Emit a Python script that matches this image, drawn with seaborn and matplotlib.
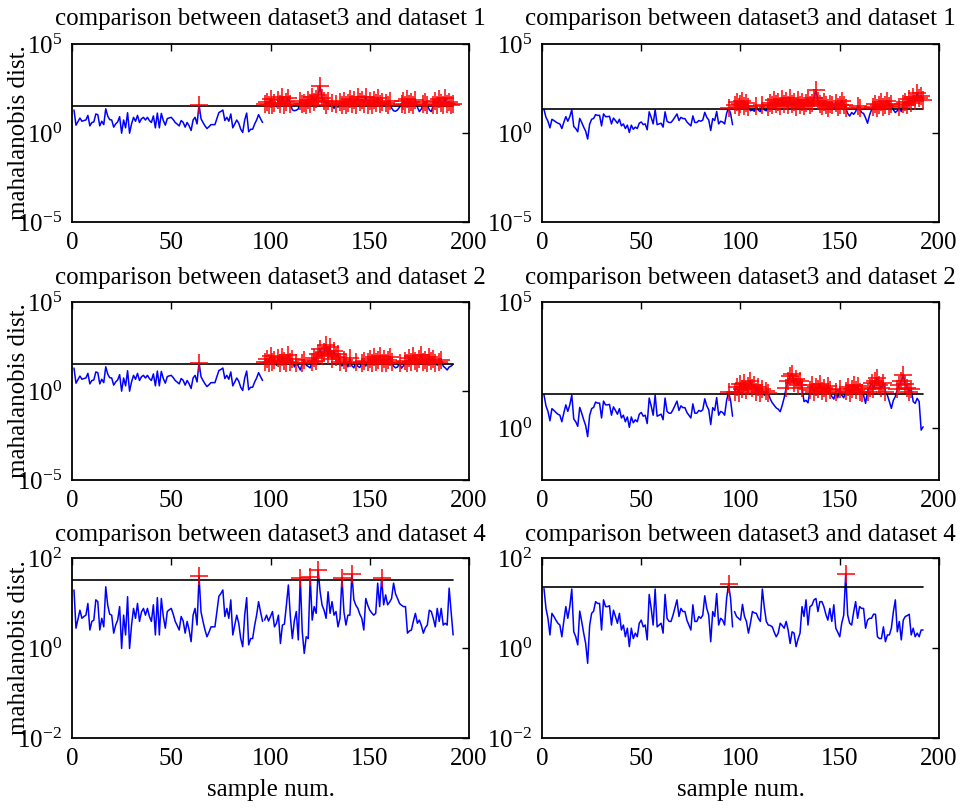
import matplotlib
matplotlib.use("Agg")
import numpy as np
import pandas as pd
import matplotlib.pyplot as plt
import seaborn as sns
from matplotlib.ticker import FixedLocator, LogFormatterMathtext, NullLocator

# ---------------- data (log10 of mahalanobis distance) ----------------
SAMPLES_REF = list(range(1, 97))
SAMPLES_TEST = list(range(97, 193))

LEFT_REF_LOG = [
    1.29, 0.44, 0.64, 0.84, 0.66, 0.70, 0.73, 0.99, 0.40, 0.59, 0.62, 1.07,
    1.03, 0.40, 0.66, 0.47, 1.36, 0.95, 0.75, 0.73, 0.33, 0.51, 0.62, 0.92,
    -0.01, 0.73, 0.29, 1.14, -0.01, 0.51, 0.88, 0.66, 0.99, 0.59, 0.80, 0.88,
    0.73, 0.88, 0.70, 0.59, 0.96, 0.29, 1.12, 0.29, 1.10, 0.70, 0.44, 0.81,
    0.85, 0.88, 0.75, 0.59, 0.50, 0.40, 0.70, 0.60, 0.33, 0.59, 0.40, 0.14,
    0.73, 0.88, 0.51, 1.60, 0.80, 0.59, 0.40, 0.25, 0.35, 0.47, 0.47, 0.47,
    0.81, 1.15, 1.21, 1.29, 0.70, 0.88, 0.66, 1.07, 0.29, 0.51, 0.73, 0.55,
    0.21, 0.03, 0.73, 1.12, 0.07, 0.21, 0.21, 0.50, 0.73, 1.03, 0.80, 0.59]

RIGHT_REF_LOG = [
    1.32, 0.88, 0.66, 0.29, 0.77, 0.70, 0.62, 0.55, 0.51, 0.25, 0.60, 0.92,
    0.66, 0.92, 1.31, 0.36, 0.25, 0.07, 0.82, 0.59, 0.33, 0.10, -0.34, 0.50,
    0.77, 0.82, 1.03, 0.99, 0.99, 0.40, 1.07, 0.92, 0.92, 0.94, 0.51, 0.84,
    0.70, 0.55, 0.77, 0.40, 0.51, 0.25, 0.44, 0.03, 0.44, 0.21, 0.33, 0.25,
    0.55, 0.62, 0.47, 0.51, 0.18, 1.19, 0.88, 0.51, 1.31, 0.47, 0.51, 0.55,
    0.33, 1.19, 0.66, 0.59, 0.59, 0.73, 0.90, 1.07, 0.70, 0.88, 0.81, 0.81,
    0.62, 0.51, 0.40, 0.96, 0.59, 0.59, 0.70, 0.66, 0.73, 1.16, 0.88, 0.73,
    0.14, 0.81, 0.70, 1.21, 0.51, 0.66, 0.62, 0.51, 1.10, 1.42, 1.10, 0.47]

TL_TEST_LOG = [
    1.62, 1.75, 1.55, 1.90, 1.60, 1.70, 1.48, 1.85, 1.62, 2.05, 1.58, 1.72,
    1.95, 1.65, 1.30, 1.25, 1.28, 1.35, 1.80, 1.62, 1.70, 1.55, 1.85, 1.65,
    2.00, 1.72, 1.90, 2.15, 2.62, 1.95, 1.78, 1.60, 1.82, 1.50, 1.70, 1.38,
    1.62, 1.45, 1.75, 1.60, 1.82, 1.55, 1.70, 1.90, 1.62, 1.85, 1.58, 2.00,
    1.72, 1.88, 1.65, 2.05, 1.60, 1.78, 1.55, 1.85, 1.68, 1.95, 1.62, 1.75,
    1.50, 1.70, 1.58, 1.82, 1.40, 1.25, 1.22, 1.30, 1.45, 1.65, 1.78, 1.55,
    1.90, 1.62, 1.72, 1.58, 1.85, 1.45, 1.20, 1.35, 1.62, 1.75, 1.58, 1.30,
    1.20, 1.55, 1.82, 1.60, 1.90, 1.68, 1.55, 1.95, 1.62, 1.72, 1.58, 1.65]

TR_TEST_LOG = [
    1.55, 1.72, 1.48, 1.62, 1.80, 1.52, 1.68, 1.45, 1.25, 1.30, 1.22, 1.50,
    1.28, 1.20, 1.58, 1.30, 1.25, 1.45, 1.70, 1.55, 1.85, 1.62, 1.75, 1.50,
    1.90, 1.65, 1.78, 1.55, 1.95, 1.62, 1.72, 1.48, 1.85, 1.60, 1.75, 1.52,
    1.68, 1.85, 1.55, 1.70, 1.95, 2.42, 1.80, 1.65, 1.50, 1.75, 1.58, 1.40,
    1.62, 1.55, 1.35, 1.70, 1.48, 1.60, 1.82, 1.55, 1.42, 1.10, 0.95, 1.15,
    1.05, 1.20, 1.50, 1.40, 1.15, 1.10, 0.85, 0.55, 1.00, 1.30, 1.45, 1.62,
    1.40, 1.55, 1.72, 1.48, 1.60, 1.80, 1.52, 1.65, 1.30, 1.15, 1.25, 1.45,
    1.20, 1.62, 1.75, 1.55, 1.90, 1.70, 2.05, 1.80, 2.25, 1.95, 2.10, 1.85]

ML_TEST_LOG = [
    1.65, 1.80, 1.58, 1.95, 1.62, 1.75, 1.45, 1.85, 1.60, 1.90, 1.70, 1.55,
    2.00, 1.65, 1.78, 1.35, 1.60, 1.40, 1.18, 1.55, 1.72, 1.45, 1.38, 1.30,
    1.62, 1.85, 1.70, 2.10, 2.35, 1.95, 2.20, 2.60, 2.05, 2.45, 1.80, 2.25,
    1.90, 2.10, 1.65, 1.40, 1.75, 1.60, 1.35, 1.85, 1.42, 1.30, 1.65, 1.38,
    1.32, 1.55, 1.70, 1.40, 1.62, 1.80, 1.58, 1.90, 1.65, 1.75, 1.95, 1.60,
    1.82, 1.55, 1.72, 1.90, 1.62, 1.40, 1.30, 1.35, 1.58, 1.28, 1.42, 1.70,
    1.55, 1.85, 1.62, 1.95, 1.70, 1.58, 1.80, 2.00, 1.65, 1.75, 1.55, 1.90,
    1.68, 1.82, 1.58, 1.45, 1.62, 1.75, 1.40, 1.30, 1.18, 1.35, 1.40, 1.50]

MR_TEST_LOG = [
    1.45, 1.62, 1.40, 1.75, 1.55, 1.80, 1.50, 1.68, 1.85, 1.58, 1.72, 1.45,
    1.62, 1.40, 1.55, 1.30, 1.48, 1.38, 1.15, 1.00, 0.90, 0.80, 0.75, 0.65,
    0.90, 1.20, 1.60, 1.85, 2.05, 2.15, 1.80, 1.95, 1.70, 1.85, 1.60, 1.05,
    1.10, 1.00, 1.50, 1.70, 1.45, 1.62, 1.55, 1.75, 1.48, 1.60, 1.40, 1.68,
    1.50, 1.25, 1.15, 1.45, 1.20, 1.55, 1.30, 1.20, 1.48, 1.62, 1.40, 1.55,
    1.72, 1.50, 1.65, 1.45, 1.40, 1.30, 0.98, 1.45, 1.60, 1.78, 1.55, 1.85,
    2.00, 1.70, 1.58, 1.80, 1.45, 1.30, 1.05, 0.78, 1.10, 1.25, 1.55, 1.70,
    1.85, 2.10, 1.75, 1.60, 1.45, 1.55, 1.05, 0.98, 1.18, 1.05, -0.08, 0.05]

BL_TEST_LOG = [
    0.62, 0.73, 0.60, 0.70, 0.81, 0.47, 0.55, 0.73, 0.10, 0.51, 0.53, 0.95,
    1.40, 0.70, 0.21, 0.60, 0.81, 0.18, 1.56, 0.36, -0.12, 0.25, 0.21, 1.58,
    0.62, 0.92, 0.77, 1.73, 1.25, 0.95, 0.84, 0.66, 1.25, 0.77, 1.03, 0.73,
    0.81, 0.47, 0.66, 1.56, 0.80, 0.51, 0.73, 0.73, 1.65, 1.07, 0.95, 0.88,
    0.75, 0.66, 0.40, 1.10, 0.95, 0.84, 0.78, 0.73, 0.77, 1.44, 0.92, 1.56,
    0.96, 1.18, 0.96, 1.02, 1.10, 1.44, 1.20, 1.10, 0.99, 0.95, 0.92, 0.92,
    0.33, 0.38, 0.40, 0.60, 0.77, 0.55, 0.62, 0.50, 0.33, 0.45, 0.51, 0.84,
    0.81, 0.66, 0.47, 0.88, 0.59, 0.88, 0.51, 0.55, 0.51, 1.33, 0.80, 0.29]

BR_TEST_LOG = [
    0.81, 0.70, 0.66, 0.62, 0.97, 0.70, 0.59, 0.33, 0.55, 0.81, 0.78, 0.77,
    0.66, 0.59, 1.31, 0.90, 0.59, 0.51, 0.50, 0.47, 0.35, 0.25, 0.33, 0.55,
    0.50, 0.44, 0.59, 0.40, 0.10, 0.36, 0.33, 0.03, 0.20, 0.33, 0.92, 0.70,
    1.07, 0.51, 0.92, 0.95, 1.07, 1.10, 0.81, 1.03, 1.03, 0.92, 0.75, 0.62,
    0.88, 0.59, 0.96, 0.44, 0.35, 0.25, 0.55, 0.73, 1.64, 0.73, 0.55, 0.51,
    0.80, 1.03, 0.66, 0.92, 0.88, 0.88, 0.44, 0.62, 0.66, 0.66, 0.75, 0.75,
    0.25, 0.21, 0.21, 0.47, 0.14, 0.29, 0.29, 0.44, 0.80, 1.07, 0.36, 0.59,
    0.18, 0.62, 0.70, 0.72, 0.75, 0.29, 0.44, 0.25, 0.33, 0.25, 0.40, 0.40]

THRESH_LEFT_LOG = 1.52
THRESH_RIGHT_LOG = 1.35
THRESH_X = [0, 192]

TITLES = ["comparison between dataset3 and dataset 1",
          "comparison between dataset3 and dataset 1",
          "comparison between dataset3 and dataset 2",
          "comparison between dataset3 and dataset 2",
          "comparison between dataset3 and dataset 4",
          "comparison between dataset3 and dataset 4"]
YLABEL = "mahalanobis dist."
XLABEL = "sample num."
XTICKS = [0, 50, 100, 150, 200]
YTICK_EXP = [[-5, 0, 5], [-5, 0, 5], [-5, 0, 5], [0, 5], [-2, 0, 2], [-2, 0, 2]]
YLIM_EXP = [(-5, 5), (-5, 5), (-5, 5), (-2.06, 5), (-2, 2), (-2, 2)]

# ---------------- style ----------------
sns.set_theme(style="white")
plt.rcParams["font.family"] = ["Liberation Serif", "DejaVu Serif"]
plt.rcParams["mathtext.fontset"] = "custom"
plt.rcParams["mathtext.rm"] = "Liberation Serif"
plt.rcParams["mathtext.it"] = "Liberation Serif:italic"
plt.rcParams["axes.unicode_minus"] = True

W, H = 962, 808
fig = plt.figure(figsize=(W / 100, H / 100), dpi=100)
fig.patch.set_facecolor("white")

col_left = [72, 542]
col_w = 397
rows = [(44, 222), (302, 480), (558, 738)]
title_pad = [14, 13, 12]

panels = [
    (0, 0, LEFT_REF_LOG, TL_TEST_LOG, THRESH_LEFT_LOG),
    (0, 1, RIGHT_REF_LOG, TR_TEST_LOG, THRESH_RIGHT_LOG),
    (1, 0, LEFT_REF_LOG, ML_TEST_LOG, THRESH_LEFT_LOG),
    (1, 1, RIGHT_REF_LOG, MR_TEST_LOG, THRESH_RIGHT_LOG),
    (2, 0, LEFT_REF_LOG, BL_TEST_LOG, THRESH_LEFT_LOG),
    (2, 1, RIGHT_REF_LOG, BR_TEST_LOG, THRESH_RIGHT_LOG),
]

FS = 18
for i, (r, c, ref_log, test_log, thr_log) in enumerate(panels):
    top, bot = rows[r]
    ax = fig.add_axes([col_left[c] / W, 1 - bot / H, col_w / W, (bot - top) / H])
    ax.set_yscale("log")
    thr = 10 ** thr_log

    for xs, ys_log in ((SAMPLES_REF, ref_log), (SAMPLES_TEST, test_log)):
        seg = pd.DataFrame({"x": xs, "y": 10 ** np.array(ys_log)})
        sns.lineplot(data=seg, x="x", y="y", ax=ax, color="#0000FF", linewidth=1.1,
                     estimator=None, sort=False, legend=False, zorder=2)

    thr_df = pd.DataFrame({"x": THRESH_X, "y": [thr, thr]})
    sns.lineplot(data=thr_df, x="x", y="y", ax=ax, color="black", linewidth=1.2,
                 estimator=None, sort=False, legend=False, zorder=2.5)

    allx = np.array(SAMPLES_REF + SAMPLES_TEST)
    ally = 10 ** np.array(list(ref_log) + list(test_log))
    mask = ally > thr
    mk = pd.DataFrame({"x": allx[mask], "y": ally[mask]})
    sns.scatterplot(data=mk, x="x", y="y", ax=ax, marker="+", s=150, color="#FF0000",
                    linewidth=1.1, legend=False, zorder=3)

    ax.set_xlim(0, 200)
    lo, hi = YLIM_EXP[i]
    ax.set_ylim(10 ** lo, 10 ** hi)
    ax.xaxis.set_major_locator(FixedLocator(XTICKS))
    ax.yaxis.set_major_locator(FixedLocator([10.0 ** e for e in YTICK_EXP[i]]))
    ax.yaxis.set_major_formatter(LogFormatterMathtext())
    ax.yaxis.set_minor_locator(NullLocator())
    ax.xaxis.set_minor_locator(NullLocator())
    ax.tick_params(direction="in", top=True, right=True, length=5, width=1,
                   labelsize=FS, colors="black", pad=7)
    for sp in ax.spines.values():
        sp.set_visible(True)
        sp.set_color("black")
        sp.set_linewidth(1.3)
    ax.set_facecolor("white")
    ax.grid(False)

    ax.set_title(TITLES[i], fontsize=FS, pad=title_pad[r], color="black")
    ax.set_xlabel("")
    ax.set_ylabel("")
    if c == 0:
        ax.set_ylabel(YLABEL, fontsize=FS, color="black")
        ax.yaxis.set_label_coords(-0.105, 0.5)
    if r == 2:
        ax.set_xlabel(XLABEL, fontsize=FS, color="black")
        ax.xaxis.set_label_coords(0.5, -0.23)

fig.savefig("out.png", dpi=100, facecolor="white")
